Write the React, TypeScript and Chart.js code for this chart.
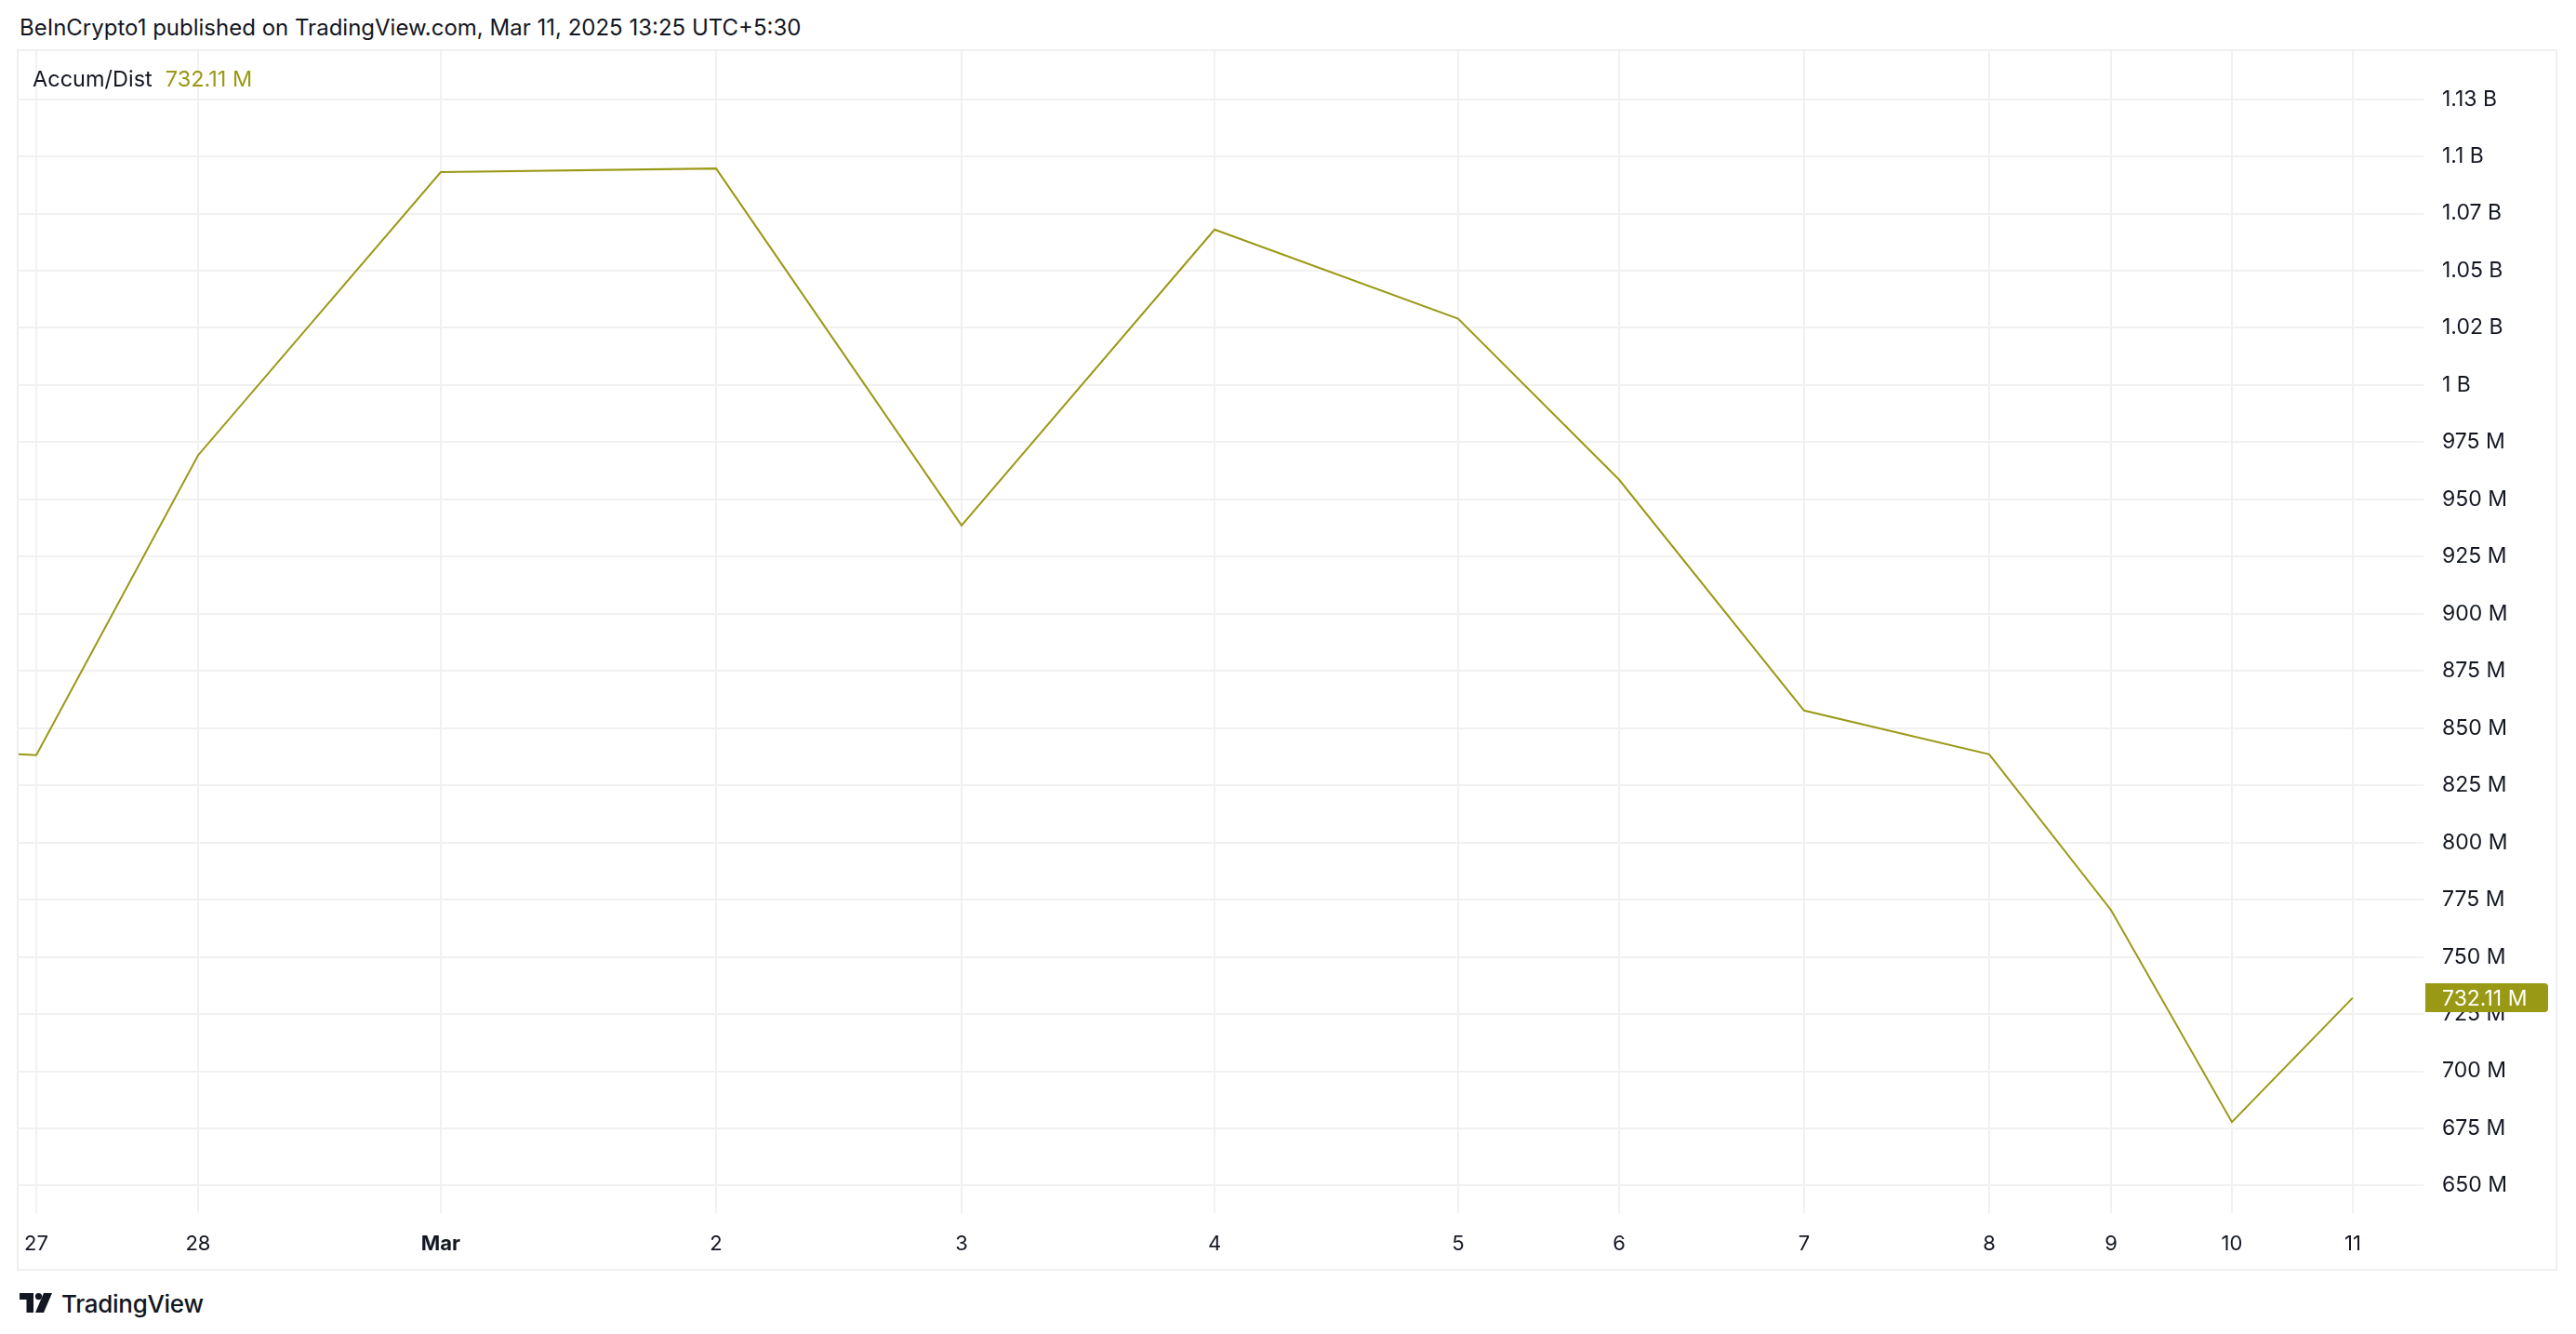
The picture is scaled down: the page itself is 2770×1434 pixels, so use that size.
import React, { useEffect, useRef } from 'react';
import { Chart, registerables } from 'chart.js';

Chart.register(...registerables);

// ---- data ----
const dayLabels = ['26', '27', '28', 'Mar', '2', '3', '4', '5', '6', '7', '8', '9', '10', '11'];
// position of each session on the (non-uniform) time axis, in units of the last day's width
const timePositions = [-1.335, 0, 1.335, 3.338, 5.61, 7.636, 9.724, 11.734, 13.062, 14.589, 16.117, 17.122, 18.12, 19.117];
const accumDistValues = [
  841.9e6, 838.2e6, 969.3e6, 1093.1e6, 1094.7e6, 938.6e6, 1068.0e6,
  1029.0e6, 958.7e6, 857.7e6, 838.6e6, 770.5e6, 677.8e6, 732.11e6,
];
const xTickLabels = ['27', '28', 'Mar', '2', '3', '4', '5', '6', '7', '8', '9', '10', '11'];
const yTickValues = [
  650e6, 675e6, 700e6, 725e6, 750e6, 775e6, 800e6, 825e6, 850e6, 875e6, 900e6,
  925e6, 950e6, 975e6, 1000e6, 1025e6, 1050e6, 1075e6, 1100e6, 1125e6,
];
const yTickLabels = [
  '650 M', '675 M', '700 M', '725 M', '750 M', '775 M', '800 M', '825 M', '850 M', '875 M', '900 M',
  '925 M', '950 M', '975 M', '1 B', '1.02 B', '1.05 B', '1.07 B', '1.1 B', '1.13 B',
];

const seriesName = 'Accum/Dist';
const titleText = 'BeInCrypto1 published on TradingView.com, Mar 11, 2025 13:25 UTC+5:30';

// ---- view / style ----
const X_MIN = -0.146;
const X_MAX = 19.701;
const Y_MIN = 638.0e6;
const Y_MAX = 1146.0e6;
const LINE_COLOR = '#999915';
const GRID_COLOR = '#f1f1f1';
const TEXT_COLOR = '#131722';
const FONT = 'Inter, "Noto Sans", sans-serif';

const CANVAS_W = 2728;
const CANVAS_H = 1309;

function formatLast(v: number) {
  return (v / 1e6).toFixed(2) + ' M';
}

const lastValuePlugin = {
  id: 'lastValueLabel',
  afterDraw(chart: any) {
    const { ctx, chartArea, scales } = chart;
    const last = accumDistValues[accumDistValues.length - 1];
    const y = scales.y.getPixelForValue(last);
    const x0 = chartArea.right + 2;
    const x1 = CANVAS_W - 8;
    const h = 31;
    ctx.save();
    ctx.fillStyle = LINE_COLOR;
    ctx.beginPath();
    if ((ctx as any).roundRect) {
      (ctx as any).roundRect(x0, y - h / 2, x1 - x0, h, [0, 4, 4, 0]);
    } else {
      ctx.rect(x0, y - h / 2, x1 - x0, h);
    }
    ctx.fill();
    ctx.fillStyle = '#ffffff';
    ctx.font = `23px ${FONT}`;
    ctx.textAlign = 'left';
    ctx.textBaseline = 'middle';
    ctx.fillText(formatLast(last), chartArea.right + 20, y + 1);
    ctx.restore();
  },
};

function zeroPadding(s: any) {
  s.paddingTop = 0;
  s.paddingBottom = 0;
  s.paddingLeft = 0;
  s.paddingRight = 0;
}

function TVLogo() {
  return (
    <svg width="36" height="22" viewBox="0 0 36 22" style={{ display: 'block' }}>
      <path d="M0 0 H15 V21 H7.5 V7 H0 Z" fill="#131722" />
      <circle cx="20.5" cy="3.6" r="3.6" fill="#131722" />
      <path d="M26 0 H35 L26 21 H17 Z" fill="#131722" />
    </svg>
  );
}

export default function App() {
  const canvasRef = useRef<HTMLCanvasElement | null>(null);

  useEffect(() => {
    if (!canvasRef.current) return;
    const points = timePositions.map((x, i) => ({ x, y: accumDistValues[i] }));
    const xTickPositions = timePositions.slice(1);
    const chart = new Chart(canvasRef.current, {
      type: 'line',
      data: {
        datasets: [
          {
            label: seriesName,
            data: points,
            borderColor: LINE_COLOR,
            backgroundColor: LINE_COLOR,
            borderWidth: 2,
            pointRadius: 0,
            tension: 0,
            fill: false,
          },
        ],
      },
      options: {
        animation: false,
        responsive: false,
        maintainAspectRatio: false,
        devicePixelRatio: 1,
        layout: { padding: 0 },
        plugins: {
          legend: { display: false },
          tooltip: { enabled: false },
        },
        scales: {
          x: {
            type: 'linear',
            min: X_MIN,
            max: X_MAX,
            afterBuildTicks: (s: any) => {
              s.ticks = xTickPositions.map((v) => ({ value: v }));
            },
            afterFit: (s: any) => {
              s.height = 60;
              zeroPadding(s);
            },
            grid: { color: GRID_COLOR, lineWidth: 2, drawTicks: false },
            border: { display: false },
            ticks: {
              autoSkip: false,
              maxRotation: 0,
              padding: 20,
              color: TEXT_COLOR,
              font: (ctx: any) => ({
                family: FONT,
                size: 22,
                weight: xTickLabels[ctx.index] === 'Mar' ? 'bold' : 'normal',
              }),
              callback: (_v: any, i: number) => xTickLabels[i],
            },
          },
          y: {
            position: 'right',
            min: Y_MIN,
            max: Y_MAX,
            afterBuildTicks: (s: any) => {
              s.ticks = yTickValues.map((v) => ({ value: v }));
            },
            afterFit: (s: any) => {
              s.width = 142;
              zeroPadding(s);
            },
            grid: { color: GRID_COLOR, lineWidth: 2, drawTicks: false },
            border: { display: false },
            ticks: {
              autoSkip: false,
              padding: 20,
              color: TEXT_COLOR,
              font: { family: FONT, size: 23 },
              callback: (_v: any, i: number) => yTickLabels[i],
            },
          },
        },
      } as any,
      plugins: [lastValuePlugin],
    });
    return () => chart.destroy();
  }, []);

  return (
    <div
      style={{
        position: 'fixed',
        left: 0,
        top: 0,
        width: 2770,
        height: 1434,
        background: '#ffffff',
        overflow: 'hidden',
        fontFamily: FONT,
        color: TEXT_COLOR,
      }}
    >
      <div
        style={{
          position: 'absolute',
          left: 21,
          top: 16,
          height: 28,
          lineHeight: '28px',
          fontSize: 24,
          whiteSpace: 'nowrap',
        }}
      >
        {titleText}
      </div>
      <div
        style={{
          position: 'absolute',
          left: 18,
          top: 53,
          width: 2732,
          height: 1313,
          border: '2px solid #efefef',
          boxSizing: 'border-box',
        }}
      />
      <canvas
        ref={canvasRef}
        width={CANVAS_W}
        height={CANVAS_H}
        style={{ position: 'absolute', left: 20, top: 55, width: CANVAS_W, height: CANVAS_H }}
      />
      <div
        style={{
          position: 'absolute',
          left: 35,
          top: 71,
          height: 28,
          lineHeight: '28px',
          fontSize: 23.5,
          whiteSpace: 'nowrap',
        }}
      >
        <span style={{ color: TEXT_COLOR }}>{seriesName}</span>
        <span style={{ color: LINE_COLOR, marginLeft: 14 }}>
          {formatLast(accumDistValues[accumDistValues.length - 1])}
        </span>
      </div>
      <div
        style={{
          position: 'absolute',
          left: 21,
          top: 1386,
          height: 30,
          display: 'flex',
          alignItems: 'center',
          gap: 9,
        }}
      >
        <TVLogo />
        <span style={{ fontSize: 26, fontWeight: 500, letterSpacing: -0.3 }}>TradingView</span>
      </div>
    </div>
  );
}
